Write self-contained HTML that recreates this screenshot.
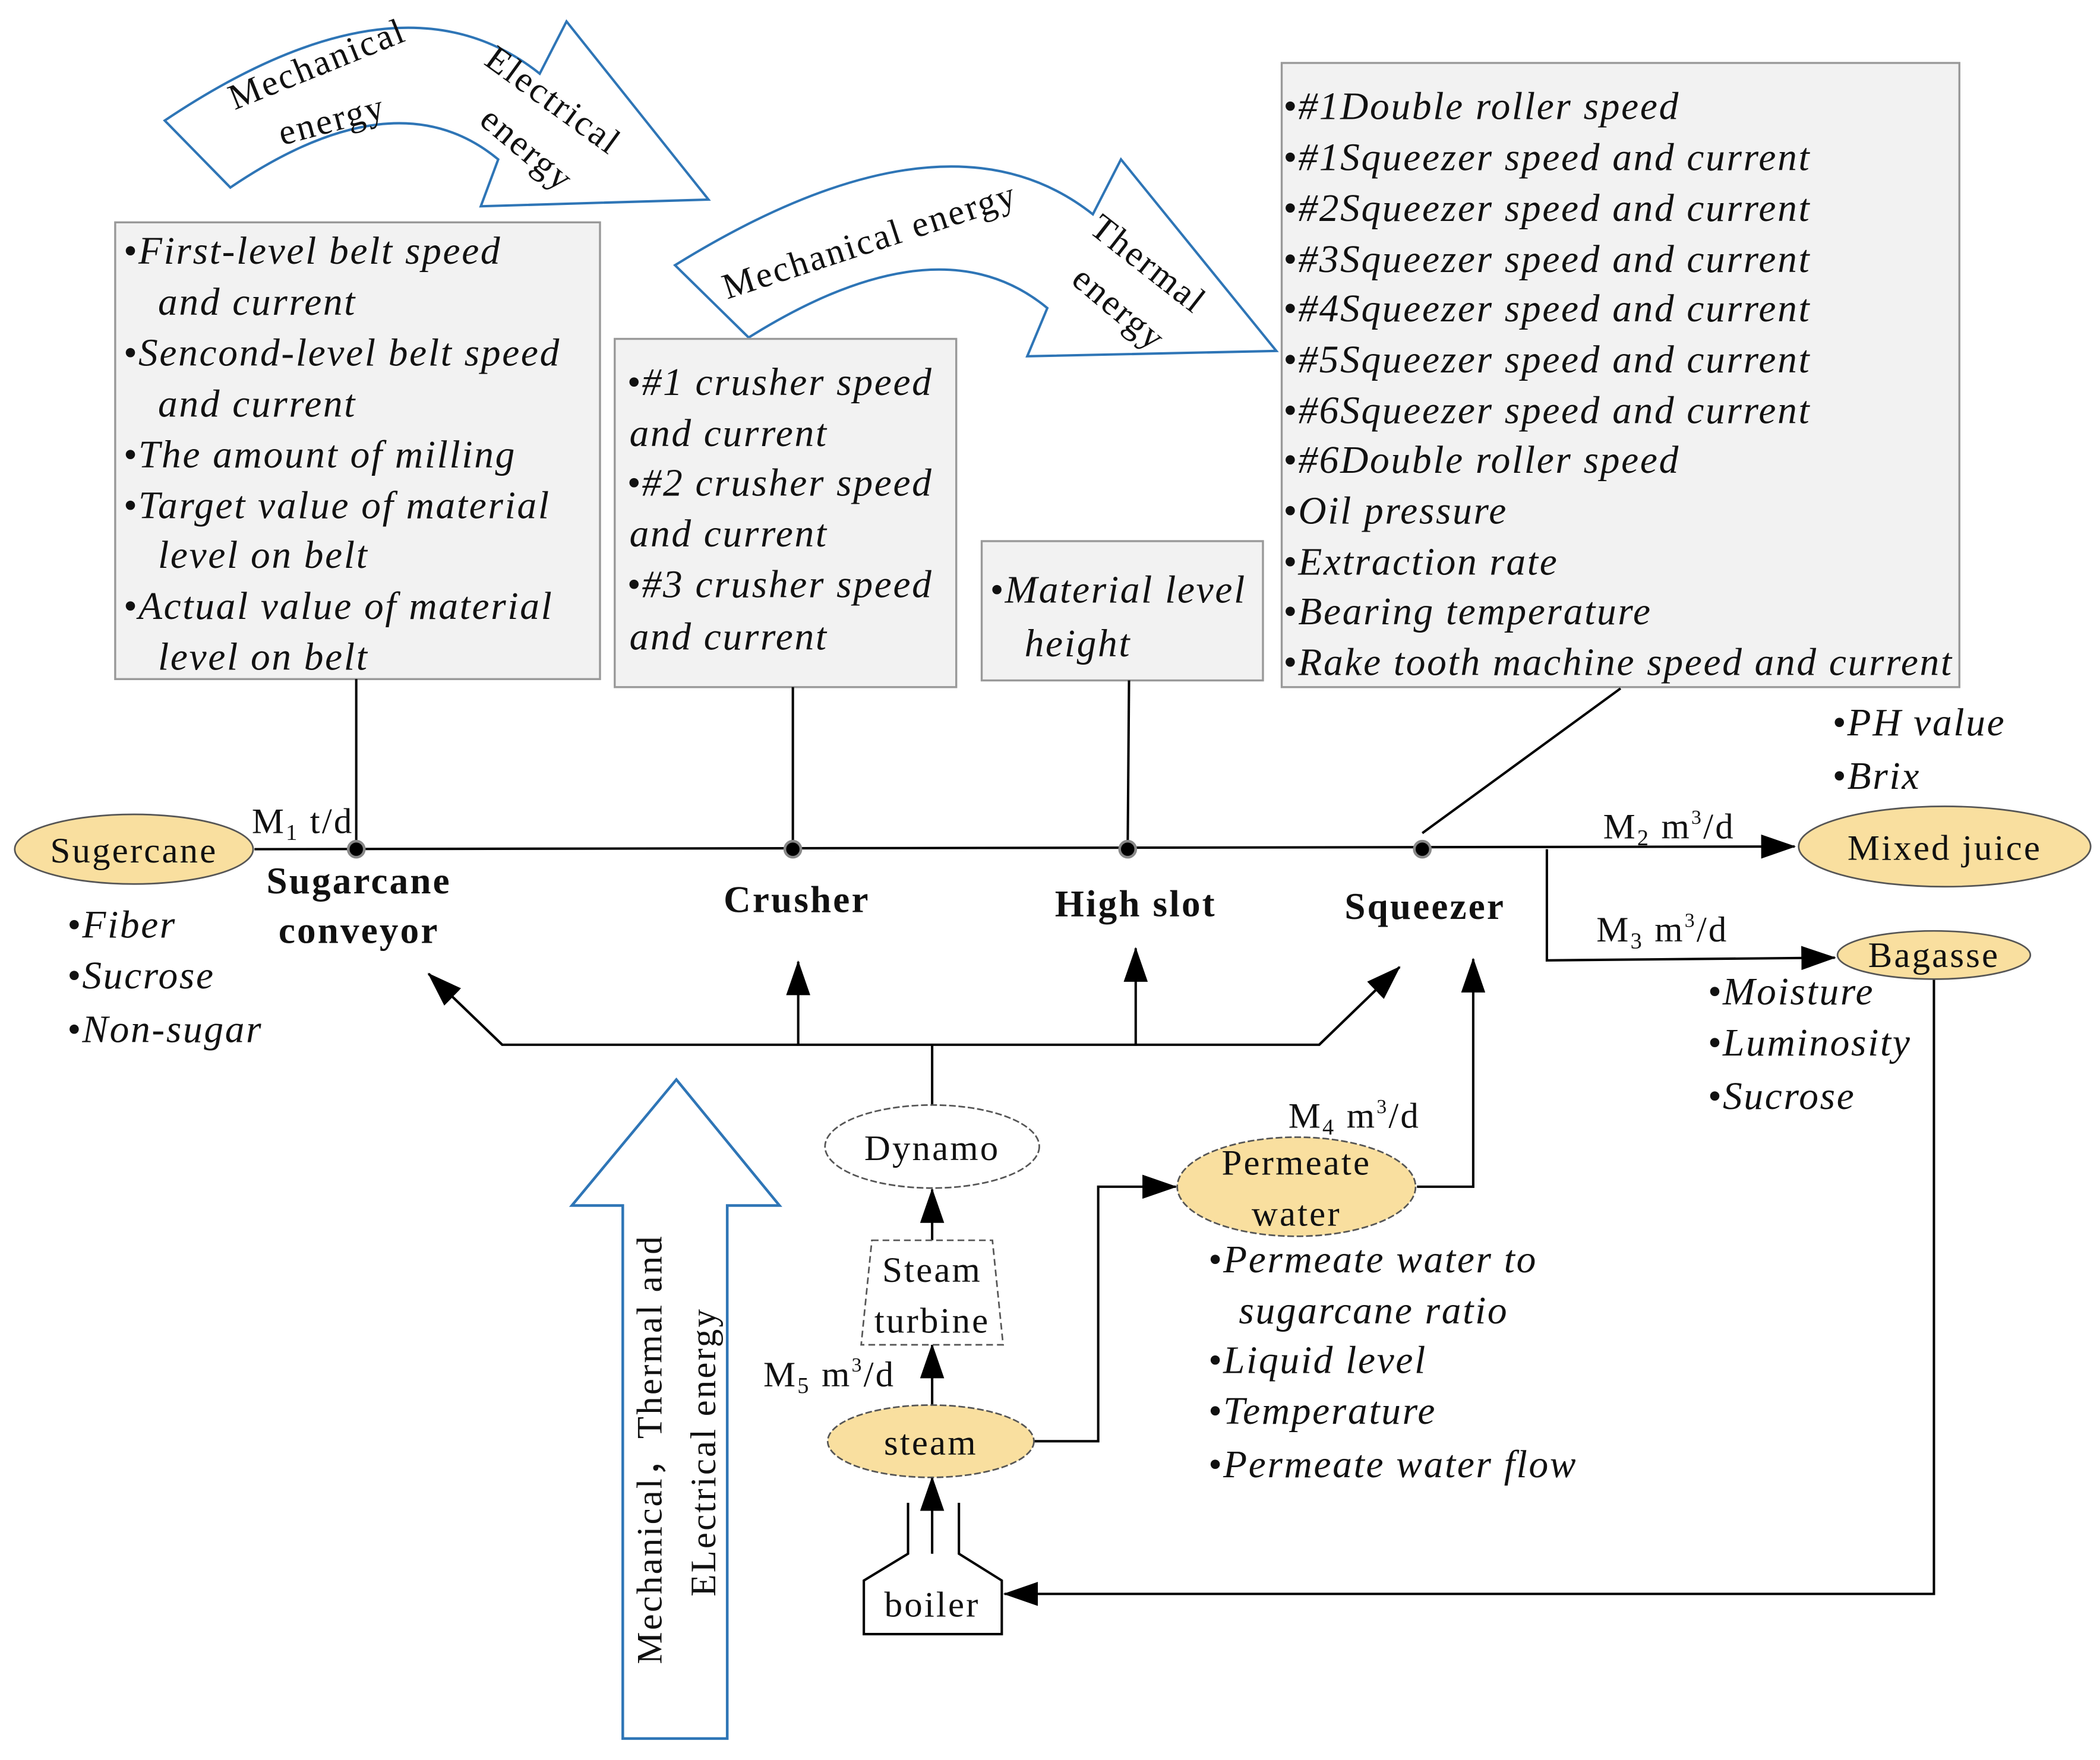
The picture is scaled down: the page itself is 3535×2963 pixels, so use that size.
<!DOCTYPE html>
<html><head><meta charset="utf-8">
<style>
html,body{margin:0;padding:0;background:#fff;}
svg{display:block;}
text{font-family:"Liberation Serif",serif;fill:#111;}
.it{font-style:italic;font-size:29px;letter-spacing:1.2px;}
.lb{font-size:27px;letter-spacing:1.4px;}
.bd{font-size:28px;font-weight:bold;letter-spacing:1.4px;}
</style></head>
<body>
<svg width="3535" height="2963" viewBox="0 0 1568 1314" preserveAspectRatio="none" xmlns="http://www.w3.org/2000/svg">
<defs>
<marker id="ab" markerWidth="26" markerHeight="18" refX="25" refY="9" orient="auto" markerUnits="userSpaceOnUse" viewBox="0 0 26 18">
<path d="M0,0 L26,9 L0,18 Z" fill="#000"/>
</marker>
</defs>

<path d="M123,90 Q299,-28 403,55 L423,16 L529,149 L359,154 L372,119 Q296,56 172,140 Z" fill="#fff" stroke="#2e75b6" stroke-width="1.8"/>
<path d="M504,198 Q706,73 816,160 L837,119 L953,262 L767,266 L782,230 Q701,163 559,252 Z" fill="#fff" stroke="#2e75b6" stroke-width="1.8"/>
<text class="lb" transform="translate(240,56) rotate(-22)" text-anchor="middle">Mechanical</text>
<text class="lb" transform="translate(250,98) rotate(-15)" text-anchor="middle">energy</text>
<text class="lb" transform="translate(408,82) rotate(36)" text-anchor="middle">Electrical</text>
<text class="lb" transform="translate(388,118) rotate(40)" text-anchor="middle">energy</text>
<text class="lb" transform="translate(652,188) rotate(-18)" text-anchor="middle">Mechanical energy</text>
<text class="lb" transform="translate(852,204) rotate(38)" text-anchor="middle">Thermal</text>
<text class="lb" transform="translate(830,237) rotate(40)" text-anchor="middle">energy</text>

<rect x="86" y="166" width="362" height="341" fill="#f2f2f2" stroke="#999" stroke-width="1.5"/>
<rect x="459" y="253" width="255" height="260" fill="#f2f2f2" stroke="#999" stroke-width="1.5"/>
<rect x="733" y="404" width="210" height="104" fill="#f2f2f2" stroke="#999" stroke-width="1.5"/>
<rect x="957" y="47" width="506" height="466" fill="#f2f2f2" stroke="#999" stroke-width="1.5"/>

<text class="it" x="92" y="197">•First-level belt speed</text>
<text class="it" x="118" y="235">and current</text>
<text class="it" x="92" y="273">•Sencond-level belt speed</text>
<text class="it" x="118" y="311">and current</text>
<text class="it" x="92" y="349">•The amount of milling</text>
<text class="it" x="92" y="387">•Target value of material</text>
<text class="it" x="118" y="424">level on belt</text>
<text class="it" x="92" y="462">•Actual value of material</text>
<text class="it" x="118" y="500">level on belt</text>

<text class="it" x="468" y="295">•#1 crusher speed</text>
<text class="it" x="470" y="333">and current</text>
<text class="it" x="468" y="370">•#2 crusher speed</text>
<text class="it" x="470" y="408">and current</text>
<text class="it" x="468" y="446">•#3 crusher speed</text>
<text class="it" x="470" y="485">and current</text>

<text class="it" x="739" y="450">•Material level</text>
<text class="it" x="765" y="490">height</text>

<text class="it" x="958" y="89">•#1Double roller speed</text>
<text class="it" x="958" y="127">•#1Squeezer speed and current</text>
<text class="it" x="958" y="165">•#2Squeezer speed and current</text>
<text class="it" x="958" y="203">•#3Squeezer speed and current</text>
<text class="it" x="958" y="240">•#4Squeezer speed and current</text>
<text class="it" x="958" y="278">•#5Squeezer speed and current</text>
<text class="it" x="958" y="316">•#6Squeezer speed and current</text>
<text class="it" x="958" y="353">•#6Double roller speed</text>
<text class="it" x="958" y="391">•Oil pressure</text>
<text class="it" x="958" y="429">•Extraction rate</text>
<text class="it" x="958" y="466">•Bearing temperature</text>
<text class="it" x="958" y="504">•Rake tooth machine speed and current</text>

<text class="it" x="50" y="700">•Fiber</text>
<text class="it" x="50" y="738">•Sucrose</text>
<text class="it" x="50" y="778">•Non-sugar</text>
<text class="it" x="1368" y="549">•PH value</text>
<text class="it" x="1368" y="589">•Brix</text>
<text class="it" x="1275" y="750">•Moisture</text>
<text class="it" x="1275" y="788">•Luminosity</text>
<text class="it" x="1275" y="828">•Sucrose</text>
<text class="it" x="902" y="950">•Permeate water to</text>
<text class="it" x="925" y="988">sugarcane ratio</text>
<text class="it" x="902" y="1025">•Liquid level</text>
<text class="it" x="902" y="1063">•Temperature</text>
<text class="it" x="902" y="1103">•Permeate water flow</text>

<g stroke="#000" stroke-width="1.8" fill="none">
<line x1="266" y1="507" x2="266" y2="634"/>
<line x1="592" y1="513" x2="592" y2="634"/>
<line x1="843" y1="508" x2="842" y2="634"/>
<line x1="1210" y1="514" x2="1062" y2="622"/>
<line x1="190" y1="634" x2="1340" y2="632" marker-end="url(#ab)"/>
<polyline points="1155,634 1155,717 1370,715" marker-end="url(#ab)"/>
<polyline points="320,727 375,780 985,780 1045,722"/>
<line x1="375" y1="780" x2="320" y2="727" marker-end="url(#ab)"/>
<line x1="985" y1="780" x2="1045" y2="722" marker-end="url(#ab)"/>
<line x1="596" y1="780" x2="596" y2="718" marker-end="url(#ab)"/>
<line x1="848" y1="780" x2="848" y2="708" marker-end="url(#ab)"/>
<line x1="696" y1="780" x2="696" y2="826"/>
<line x1="696" y1="926" x2="696" y2="888" marker-end="url(#ab)"/>
<line x1="696" y1="1050" x2="696" y2="1004" marker-end="url(#ab)"/>
<polyline points="772,1076 820,1076 820,886 878,886" marker-end="url(#ab)"/>
<polyline points="1058,886 1100,886 1100,716" marker-end="url(#ab)"/>
<line x1="696" y1="1160" x2="696" y2="1103" marker-end="url(#ab)"/>
<polyline points="1444,731 1444,1190 750,1190" marker-end="url(#ab)"/>
<path d="M678,1122 L678,1160 L645,1180 L645,1220 L748,1220 L748,1180 L716,1160 L716,1122"/>
</g>

<g fill="#000" stroke="#888" stroke-width="2">
<circle cx="266" cy="634" r="6"/>
<circle cx="592" cy="634" r="6"/>
<circle cx="842" cy="634" r="6"/>
<circle cx="1062" cy="634" r="6"/>
</g>

<g stroke="#555" stroke-width="1.2">
<ellipse cx="100" cy="634" rx="89" ry="26" fill="#f9df9f"/>
<ellipse cx="1452" cy="632" rx="109" ry="30" fill="#f9df9f"/>
<ellipse cx="1444" cy="713" rx="72" ry="18" fill="#f9df9f"/>
<ellipse cx="968" cy="886" rx="89" ry="37" fill="#f9df9f" stroke-dasharray="5,2"/>
<ellipse cx="695" cy="1076" rx="77" ry="27" fill="#f9df9f" stroke-dasharray="5,2"/>
<ellipse cx="696" cy="856" rx="80" ry="31" fill="#fff" stroke-dasharray="5,2"/>
<path d="M651,926 L741,926 L749,1004 L643,1004 Z" fill="#fff" stroke-dasharray="5,3"/>
</g>

<path d="M465,1298 L465,900 L427,900 L505,806 L582,900 L543,900 L543,1298 Z" fill="#fff" stroke="#2e75b6" stroke-width="2"/>
<text class="lb" transform="translate(494,1082) rotate(-90)" text-anchor="middle">Mechanical，Thermal and</text>
<text class="lb" transform="translate(534,1084) rotate(-90)" text-anchor="middle">ELectrical energy</text>

<text class="lb" x="100" y="644" text-anchor="middle">Sugercane</text>
<text class="lb" x="1452" y="642" text-anchor="middle">Mixed juice</text>
<text class="lb" x="1444" y="722" text-anchor="middle">Bagasse</text>
<text class="lb" x="968" y="877" text-anchor="middle">Permeate</text>
<text class="lb" x="968" y="915" text-anchor="middle">water</text>
<text class="lb" x="695" y="1086" text-anchor="middle">steam</text>
<text class="lb" x="696" y="866" text-anchor="middle">Dynamo</text>
<text class="lb" x="696" y="957" text-anchor="middle">Steam</text>
<text class="lb" x="696" y="995" text-anchor="middle">turbine</text>
<text class="lb" x="696" y="1207" text-anchor="middle">boiler</text>
<text class="lb" x="188" y="622">M<tspan font-size="17" dy="5">1</tspan><tspan dy="-5"> t/d</tspan></text>
<text class="lb" x="1197" y="626">M<tspan font-size="17" dy="5">2</tspan><tspan dy="-5"> m</tspan><tspan font-size="15" dy="-11">3</tspan><tspan dy="11">/d</tspan></text>
<text class="lb" x="1192" y="703">M<tspan font-size="17" dy="5">3</tspan><tspan dy="-5"> m</tspan><tspan font-size="15" dy="-11">3</tspan><tspan dy="11">/d</tspan></text>
<text class="lb" x="962" y="842">M<tspan font-size="17" dy="5">4</tspan><tspan dy="-5"> m</tspan><tspan font-size="15" dy="-11">3</tspan><tspan dy="11">/d</tspan></text>
<text class="lb" x="570" y="1035">M<tspan font-size="17" dy="5">5</tspan><tspan dy="-5"> m</tspan><tspan font-size="15" dy="-11">3</tspan><tspan dy="11">/d</tspan></text>
<text class="bd" x="268" y="667" text-anchor="middle">Sugarcane</text>
<text class="bd" x="268" y="704" text-anchor="middle">conveyor</text>
<text class="bd" x="595" y="681" text-anchor="middle">Crusher</text>
<text class="bd" x="848" y="684" text-anchor="middle">High slot</text>
<text class="bd" x="1064" y="686" text-anchor="middle">Squeezer</text>
</svg>
</body></html>
